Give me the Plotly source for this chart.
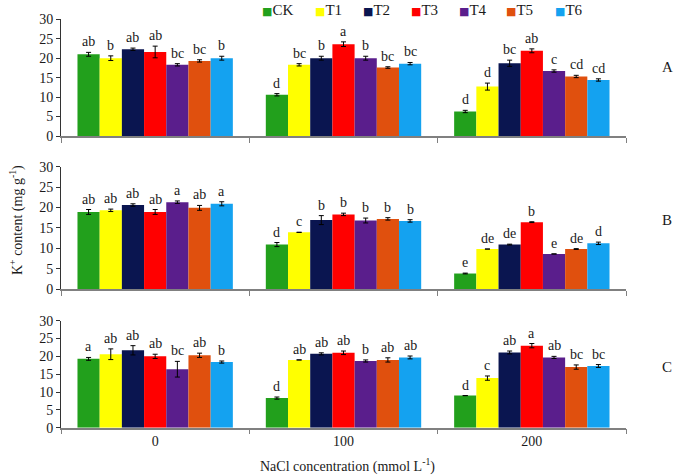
import plotly.graph_objects as go

groups = ["0", "100", "200"]
series = ["CK", "T1", "T2", "T3", "T4", "T5", "T6"]
colors = ["#22a01c", "#ffff00", "#0a1550", "#ff0000", "#5a1e8c", "#e0500e", "#14a2f0"]

# Panel A values per series (NaCl 0, 100, 200)
A_vals = [[21.0, 10.6, 6.3], [20.0, 18.3, 12.7], [22.3, 20.0, 18.7], [21.6, 23.6, 21.9],
          [18.3, 20.0, 16.7], [19.3, 17.6, 15.3], [20.0, 18.6, 14.4]]
A_err = [[0.5, 0.3, 0.3], [0.6, 0.3, 0.9], [0.3, 0.5, 0.8], [1.5, 0.6, 0.5],
         [0.3, 0.5, 0.3], [0.3, 0.2, 0.3], [0.5, 0.3, 0.3]]
A_lab = [["ab", "d", "d"], ["b", "bc", "d"], ["ab", "b", "bc"], ["ab", "a", "ab"],
         ["bc", "b", "c"], ["bc", "bc", "cd"], ["b", "bc", "cd"]]

B_vals = [[18.9, 10.9, 3.8], [19.3, 13.9, 9.8], [20.6, 16.9, 10.9], [18.9, 18.3, 16.4],
          [21.3, 16.8, 8.6], [19.9, 17.2, 9.8], [20.9, 16.7, 11.2]]
B_err = [[0.6, 0.5, 0.1], [0.3, 0.0, 0.0], [0.3, 1.1, 0.1], [0.6, 0.3, 0.1],
         [0.3, 0.6, 0.0], [0.6, 0.3, 0.1], [0.5, 0.3, 0.3]]
B_lab = [["ab", "d", "e"], ["ab", "c", "de"], ["ab", "b", "de"], ["ab", "b", "b"],
         ["a", "b", "e"], ["ab", "b", "de"], ["a", "b", "d"]]

C_vals = [[19.3, 8.3, 9.0], [20.6, 19.0, 13.9], [21.7, 20.7, 21.1], [20.0, 21.0, 23.0],
          [16.4, 18.7, 19.7], [20.3, 19.0, 17.0], [18.4, 19.7, 17.3]]
C_err = [[0.4, 0.3, 0.0], [1.5, 0.0, 0.6], [1.3, 0.3, 0.4], [0.6, 0.5, 0.6],
         [2.2, 0.3, 0.3], [0.6, 0.6, 0.6], [0.3, 0.4, 0.4]]
C_lab = [["a", "d", "d"], ["ab", "ab", "c"], ["ab", "ab", "ab"], ["ab", "ab", "a"],
         ["bc", "b", "ab"], ["ab", "ab", "bc"], ["b", "ab", "bc"]]

panels = [("A", A_vals, A_err, A_lab), ("B", B_vals, B_err, B_lab), ("C", C_vals, C_err, C_lab)]
W, H = 675, 476
y_domains = [[1 - 136 / H, 1 - 19.3 / H], [1 - 289 / H, 1 - 166.7 / H], [1 - 427.7 / H, 1 - 320.7 / H]]
x_domain = [61 / W, 626 / W]
bargap = 0.175
FONT = "Liberation Serif"
TXT = "#1a1a1a"
legend_px = [260, 313, 361, 409, 457, 504, 553]

fig = go.Figure()
annotations = []
for p, (name, vals, errs, labs) in enumerate(panels):
    xa = "x" if p == 0 else f"x{p+1}"
    ya = "y" if p == 0 else f"y{p+1}"
    for i, s in enumerate(series):
        fig.add_trace(go.Bar(
            x=groups, y=vals[i], name=s, marker=dict(color=colors[i], line=dict(width=0)),
            error_y=dict(type="data", array=errs[i], color="black", thickness=1, width=2.5),
            xaxis=xa, yaxis=ya, showlegend=False,
        ))
        w = (1 - bargap) / len(series)
        for g in range(len(groups)):
            annotations.append(dict(
                x=g + (i - 3) * w, y=vals[i][g] + errs[i][g], xref=xa, yref=ya,
                text=labs[i][g], showarrow=False, yanchor="bottom", yshift=1,
                font=dict(family=FONT, size=14, color=TXT),
            ))
    annotations.append(dict(
        x=667 / W, y=1 - [67, 220, 367][p] / H, xref="paper", yref="paper", text=name,
        xanchor="center", yanchor="middle",
        showarrow=False, font=dict(family=FONT, size=15, color=TXT),
    ))

# legend drawn as text entries (coloured square + series name)
for i, s in enumerate(series):
    annotations.append(dict(
        x=legend_px[i] / W, y=1 - 10 / H, xref="paper", yref="paper", xanchor="left", yanchor="middle",
        showarrow=False,
        text=f"<span style='color:{colors[i]};font-family:DejaVu Sans;font-size:11px'>■</span>{s}",
        font=dict(family=FONT, size=15, color=TXT),
    ))

annotations.append(dict(
    x=16 / W, y=1 - 220 / H, xref="paper", yref="paper", textangle=-90, showarrow=False,
    xanchor="center", yanchor="middle",
    text="K<sup>+</sup> content (mg g<sup>-1</sup>)", font=dict(family=FONT, size=14, color=TXT),
))
annotations.append(dict(
    x=347 / W, y=1 - 465 / H, xref="paper", yref="paper", showarrow=False,
    xanchor="center", yanchor="middle",
    text="NaCl concentration (mmol L<sup>-1</sup>)", font=dict(family=FONT, size=14, color=TXT),
))

layout = dict(
    width=W, height=H, autosize=False,
    margin=dict(l=0, r=0, t=0, b=0),
    paper_bgcolor="white", plot_bgcolor="white",
    barmode="group", bargap=bargap, bargroupgap=0,
    font=dict(family=FONT, size=14, color=TXT),
    showlegend=False,
    annotations=annotations,
)
for p in range(3):
    xk = "xaxis" if p == 0 else f"xaxis{p+1}"
    yk = "yaxis" if p == 0 else f"yaxis{p+1}"
    layout[xk] = dict(
        domain=x_domain, anchor="y" if p == 0 else f"y{p+1}", type="category",
        tickson="boundaries", ticks="outside", ticklen=5, tickcolor="#808080",
        showline=True, linecolor="#808080", linewidth=1.5, showgrid=False, automargin=False,
        showticklabels=(p == 2), tickfont=dict(family=FONT, size=14, color=TXT),
    )
    layout[yk] = dict(
        domain=y_domains[p], anchor="x" if p == 0 else f"x{p+1}", range=[0, 30], dtick=5,
        ticks="outside", ticklen=4, tickcolor="#333333", showline=True, linecolor="#333333",
        linewidth=1, showgrid=False, zeroline=False, automargin=False,
        tickfont=dict(family=FONT, size=14, color=TXT),
    )

fig.update_layout(**layout)
fig.write_html("out.html", config={"displayModeBar": False},
               post_script="document.body.style.margin='0';")
